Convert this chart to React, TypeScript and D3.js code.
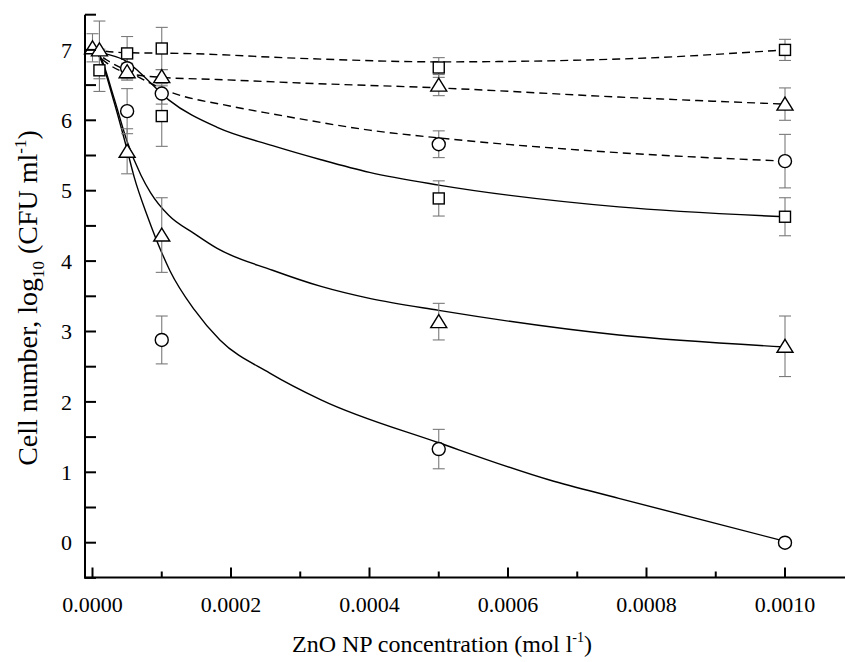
import React from "react";
import * as d3 from "d3";

// measured points (mean ± sd), ZnO NP concentration in mol/l
const solidSqX = [0.00001, 0.0001, 0.0005, 0.001];
const solidSqY = [6.71, 6.06, 4.89, 4.63];
const solidSqErr = [0.3, 0.43, 0.25, 0.27];

const solidTriX = [0, 0.00005, 0.0001, 0.0005, 0.001];
const solidTriY = [7.03, 5.56, 4.37, 3.14, 2.79];
const solidTriErr = [0.2, 0.32, 0.53, 0.26, 0.43];

const solidCirX = [0.00005, 0.0001, 0.0005, 0.001];
const solidCirY = [6.13, 2.88, 1.33, 0];
const solidCirErr = [0.32, 0.34, 0.28, 0];

const dashSqX = [0.00005, 0.0001, 0.0005, 0.001];
const dashSqY = [6.95, 7.02, 6.75, 7.0];
const dashSqErr = [0.24, 0.3, 0.14, 0.15];

const dashTriX = [0.00001, 0.00005, 0.0001, 0.0005, 0.001];
const dashTriY = [7.0, 6.69, 6.62, 6.5, 6.23];
const dashTriErr = [0.41, 0.12, 0.1, 0.15, 0.23];

const dashCirX = [0.00005, 0.0001, 0.0005, 0.001];
const dashCirY = [6.74, 6.38, 5.66, 5.42];
const dashCirErr = [0.15, 0.15, 0.19, 0.38];

// fitted curves
const fitSolidSqX = [0, 0.000017, 0.00005, 0.000067, 0.00011, 0.00018, 0.00026, 0.00033, 0.0004, 0.0005, 0.00076, 0.001];
const fitSolidSqY = [7.0, 6.95, 6.83, 6.69, 6.29, 5.9, 5.64, 5.44, 5.26, 5.08, 4.77, 4.63];

const fitSolidTriX = [0, 0.00001, 0.00003, 0.00005, 0.00007, 0.000084, 0.00011, 0.000147, 0.00018, 0.00026, 0.00033, 0.0004, 0.0005, 0.00076, 0.001];
const fitSolidTriY = [7.0, 6.93, 6.35, 5.7, 5.22, 4.97, 4.65, 4.39, 4.18, 3.87, 3.64, 3.47, 3.3, 2.95, 2.78];

const fitSolidCirX = [0, 0.00001, 0.00003, 0.00005, 0.00006, 0.00008, 0.0001, 0.000112, 0.000147, 0.000184, 0.000256, 0.00033, 0.0005, 0.00066, 0.00076, 0.001];
const fitSolidCirY = [7.0, 6.9, 6.3, 5.58, 5.2, 4.62, 4.12, 3.86, 3.31, 2.88, 2.41, 2.03, 1.42, 0.89, 0.63, 0.02];

const fitDashSqX = [0, 0.00005, 0.00013, 0.0003, 0.0005, 0.00076, 0.001];
const fitDashSqY = [7.0, 6.96, 6.95, 6.88, 6.83, 6.87, 7.0];

const fitDashTriX = [0, 0.00002, 0.00005, 0.0001, 0.00018, 0.0003, 0.0005, 0.00076, 0.001];
const fitDashTriY = [7.0, 6.82, 6.67, 6.61, 6.58, 6.53, 6.46, 6.33, 6.23];

const fitDashCirX = [0, 0.00002, 0.00005, 0.00011, 0.0002, 0.00026, 0.0003, 0.0004, 0.0005, 0.00076, 0.001];
const fitDashCirY = [7.0, 6.86, 6.7, 6.41, 6.2, 6.09, 6.02, 5.86, 5.75, 5.54, 5.42];

const xMajor = [0, 0.0002, 0.0004, 0.0006, 0.0008, 0.001];
const xMinor = [0.0001, 0.0003, 0.0005, 0.0007, 0.0009];
const yLabels = [0, 1, 2, 3, 4, 5, 6, 7];
const yTicks = d3.range(-0.5, 7.51, 0.5);

const W = 845, H = 662;
const FONT = "'Liberation Serif', 'Times New Roman', Times, serif";

const x = d3.scaleLinear().domain([0, 0.001]).range([92.5, 785]);
const y = d3.scaleLinear().domain([0, 7]).range([542.7, 49.9]);
const axisX = 85, axisY = 577.5, axisTop = y(7.5);

const fits = [
  { xs: fitSolidSqX, ys: fitSolidSqY, dash: false },
  { xs: fitSolidTriX, ys: fitSolidTriY, dash: false },
  { xs: fitSolidCirX, ys: fitSolidCirY, dash: false },
  { xs: fitDashSqX, ys: fitDashSqY, dash: true },
  { xs: fitDashTriX, ys: fitDashTriY, dash: true },
  { xs: fitDashCirX, ys: fitDashCirY, dash: true },
];

// drawing order: circles under squares under triangles
const points = [
  { xs: solidCirX, ys: solidCirY, err: solidCirErr, shape: "circle" },
  { xs: dashCirX, ys: dashCirY, err: dashCirErr, shape: "circle" },
  { xs: solidSqX, ys: solidSqY, err: solidSqErr, shape: "square" },
  { xs: dashSqX, ys: dashSqY, err: dashSqErr, shape: "square" },
  { xs: solidTriX, ys: solidTriY, err: solidTriErr, shape: "triangle" },
  { xs: dashTriX, ys: dashTriY, err: dashTriErr, shape: "triangle" },
];

const line = d3.line<[number, number]>()
  .x(d => x(d[0]))
  .y(d => y(d[1]))
  .curve(d3.curveMonotoneX);

function Marker({ shape, cx, cy }: { shape: string; cx: number; cy: number }) {
  const st = { fill: "white", stroke: "black", strokeWidth: 1.4 };
  if (shape === "square") return <rect x={cx - 5.5} y={cy - 5.5} width={11} height={11} {...st} />;
  if (shape === "circle") return <circle cx={cx} cy={cy} r={6.5} {...st} />;
  return <path d={`M${cx},${cy - 7} L${cx + 8},${cy + 6} L${cx - 8},${cy + 6} Z`} {...st} />;
}

export default function App() {
  return (
    <svg width={W} height={H} style={{ position: "absolute", left: 0, top: 0, background: "white" }}>
      {/* fitted curves */}
      {fits.map((f, i) => (
        <path key={i} d={line(f.xs.map((v, j) => [v, f.ys[j]] as [number, number])) || ""}
          fill="none" stroke="black" strokeWidth={1.4}
          strokeDasharray={f.dash ? "8,5" : undefined} />
      ))}
      {/* error bars */}
      {points.map((s, i) => (
        <g key={i} stroke="#7a7a7a" strokeWidth={1.1}>
          {s.xs.map((v, j) => s.err[j] > 0 && (
            <g key={j}>
              <line x1={x(v)} x2={x(v)} y1={y(s.ys[j] + s.err[j])} y2={y(s.ys[j] - s.err[j])} />
              <line x1={x(v) - 6} x2={x(v) + 6} y1={y(s.ys[j] + s.err[j])} y2={y(s.ys[j] + s.err[j])} />
              <line x1={x(v) - 6} x2={x(v) + 6} y1={y(s.ys[j] - s.err[j])} y2={y(s.ys[j] - s.err[j])} />
            </g>
          ))}
        </g>
      ))}
      {/* markers */}
      {points.map((s, i) => (
        <g key={i}>
          {s.xs.map((v, j) => <Marker key={j} shape={s.shape} cx={x(v)} cy={y(s.ys[j])} />)}
        </g>
      ))}
      {/* axes */}
      <g stroke="black" strokeWidth={2}>
        <line x1={axisX} x2={axisX} y1={axisTop} y2={axisY + 1} />
        <line x1={axisX - 1} x2={W} y1={axisY} y2={axisY} />
        {yTicks.map(t => <line key={t} x1={axisX} x2={axisX + 11} y1={y(t)} y2={y(t)} />)}
        {xMajor.map(t => <line key={t} x1={x(t)} x2={x(t)} y1={axisY} y2={axisY - 10} />)}
        {xMinor.map(t => <line key={t} x1={x(t)} x2={x(t)} y1={axisY} y2={axisY - 6} />)}
      </g>
      <g fontSize={22} fill="black" fontFamily={FONT}>
        {yLabels.map(t => (
          <text key={t} x={axisX - 13} y={y(t)} dy="0.35em" textAnchor="end">{t}</text>
        ))}
        {xMajor.map(t => (
          <text key={t} x={x(t)} y={axisY + 34} textAnchor="middle">{d3.format(".4f")(t)}</text>
        ))}
      </g>
      <text x={442} y={652} textAnchor="middle" fontSize={24} fontFamily={FONT}>
        ZnO NP concentration (mol l<tspan dy={-10} fontSize={14}>-1</tspan><tspan dy={10}>)</tspan>
      </text>
      <text transform="translate(37,298) rotate(-90)" textAnchor="middle" fontSize={28} fontFamily={FONT}>
        Cell number, log<tspan dy={7} fontSize={17}>10</tspan><tspan dy={-7}> (CFU ml</tspan>
        <tspan dy={-11} fontSize={17}>-1</tspan><tspan dy={11}>)</tspan>
      </text>
    </svg>
  );
}
